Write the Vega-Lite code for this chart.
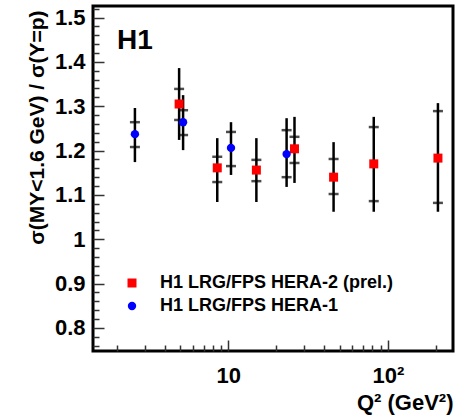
{
  "$schema": "https://vega.github.io/schema/vega-lite/v6.json",
  "width": 360,
  "height": 345,
  "autosize": {"type": "none"},
  "padding": {"left": 93, "top": 6, "right": 11, "bottom": 66},
  "background": "white",
  "title": {"text": "H1", "frame": "group", "anchor": "start", "orient": "top", "offset": -49, "dx": 24, "fontSize": 28, "fontWeight": "bold", "font": "Liberation Sans", "color": "black"},
  "config": {
    "view": {"stroke": "black", "strokeWidth": 3},
    "font": "Liberation Sans",
    "axis": {"domain": false, "grid": false, "labelFont": "Liberation Sans", "labelFontWeight": "bold", "labelFontSize": 22, "labelColor": "black", "titleFont": "Liberation Sans", "titleFontWeight": "bold", "titleColor": "black", "tickColor": "#333333", "tickWidth": 1.5}
  },
  "data": {"values": [
    {"series": "H1 LRG/FPS HERA-2 (prel.)", "q2": 4.92, "y": 1.305, "lo1": 1.269, "hi1": 1.339, "lo2": 1.224, "hi2": 1.386},
    {"series": "H1 LRG/FPS HERA-2 (prel.)", "q2": 8.53, "y": 1.161, "lo1": 1.129, "hi1": 1.186, "lo2": 1.084, "hi2": 1.228},
    {"series": "H1 LRG/FPS HERA-2 (prel.)", "q2": 15.0, "y": 1.156, "lo1": 1.131, "hi1": 1.179, "lo2": 1.084, "hi2": 1.228},
    {"series": "H1 LRG/FPS HERA-2 (prel.)", "q2": 26.0, "y": 1.204, "lo1": 1.172, "hi1": 1.231, "lo2": 1.127, "hi2": 1.276},
    {"series": "H1 LRG/FPS HERA-2 (prel.)", "q2": 45.7, "y": 1.140, "lo1": 1.102, "hi1": 1.181, "lo2": 1.062, "hi2": 1.219},
    {"series": "H1 LRG/FPS HERA-2 (prel.)", "q2": 81.6, "y": 1.170, "lo1": 1.086, "hi1": 1.253, "lo2": 1.062, "hi2": 1.276},
    {"series": "H1 LRG/FPS HERA-2 (prel.)", "q2": 206, "y": 1.183, "lo1": 1.082, "hi1": 1.289, "lo2": 1.062, "hi2": 1.307},
    {"series": "H1 LRG/FPS HERA-1", "q2": 2.6, "y": 1.237, "lo1": 1.208, "hi1": 1.264, "lo2": 1.174, "hi2": 1.296},
    {"series": "H1 LRG/FPS HERA-1", "q2": 5.21, "y": 1.264, "lo1": 1.235, "hi1": 1.291, "lo2": 1.201, "hi2": 1.325},
    {"series": "H1 LRG/FPS HERA-1", "q2": 10.4, "y": 1.206, "lo1": 1.165, "hi1": 1.242, "lo2": 1.145, "hi2": 1.264},
    {"series": "H1 LRG/FPS HERA-1", "q2": 23.2, "y": 1.192, "lo1": 1.140, "hi1": 1.246, "lo2": 1.118, "hi2": 1.273}
  ]},
  "resolve": {"axis": {"x": "independent", "y": "independent"}},
  "layer": [
    {
      "mark": {"type": "rule", "color": "black", "strokeWidth": 2.5},
      "encoding": {
        "x": {"field": "q2", "type": "quantitative",
          "scale": {"type": "log", "domain": [1.42, 256], "nice": false},
          "axis": {"orient": "bottom", "values": [10, 100], "ticks": false, "labelExpr": "datum.value == 100 ? '10²' : '10'", "labelPadding": 14, "title": "Q² (GeV²)", "titleFontSize": 22, "titleAnchor": "end", "titleAlign": "right", "titleY": 41, "titleBaseline": "top"}},
        "y": {"field": "lo2", "type": "quantitative",
          "scale": {"domain": [0.748, 1.526], "nice": false, "zero": false},
          "axis": {"orient": "left", "values": [0.8, 0.9, 1, 1.1, 1.2, 1.3, 1.4, 1.5], "ticks": false, "format": ".2~f", "labelPadding": 8, "title": "σ(MY<1.6 GeV) / σ(Y=p)", "titleFontSize": 21, "titleAnchor": "end", "titleAlign": "right", "titleX": -46, "titleY": 4}},
        "y2": {"field": "hi2"}
      }
    },
    {
      "mark": {"type": "tick", "orient": "horizontal", "color": "black", "size": 10, "thickness": 2.5},
      "encoding": {
        "x": {"field": "q2", "type": "quantitative", "scale": {"type": "log", "domain": [1.42, 256], "nice": false},
          "axis": {"orient": "bottom", "values": [10, 100], "labels": false, "tickSize": -11, "title": null}},
        "y": {"field": "hi1", "type": "quantitative", "scale": {"domain": [0.748, 1.526], "nice": false, "zero": false},
          "axis": {"orient": "left", "values": [0.8, 0.9, 1, 1.1, 1.2, 1.3, 1.4, 1.5], "labels": false, "tickSize": -11, "title": null}}
      }
    },
    {
      "mark": {"type": "tick", "orient": "horizontal", "color": "black", "size": 10, "thickness": 2.5},
      "encoding": {
        "x": {"field": "q2", "type": "quantitative", "axis": null},
        "y": {"field": "lo1", "type": "quantitative", "axis": null}
      }
    },
    {
      "mark": {"type": "point", "filled": true, "opacity": 1},
      "encoding": {
        "x": {"field": "q2", "type": "quantitative", "scale": {"type": "log", "domain": [1.42, 256], "nice": false},
          "axis": {"orient": "bottom", "values": [2, 3, 4, 5, 6, 7, 8, 9, 20, 30, 40, 50, 60, 70, 80, 90, 200], "labels": false, "tickSize": -6, "title": null}},
        "y": {"field": "y", "type": "quantitative", "scale": {"domain": [0.748, 1.526], "nice": false, "zero": false},
          "axis": {"orient": "left", "values": [0.76, 0.78, 0.82, 0.84, 0.86, 0.88, 0.92, 0.94, 0.96, 0.98, 1.02, 1.04, 1.06, 1.08, 1.12, 1.14, 1.16, 1.18, 1.22, 1.24, 1.26, 1.28, 1.32, 1.34, 1.36, 1.38, 1.42, 1.44, 1.46, 1.48, 1.52], "labels": false, "tickSize": -6, "title": null}},
        "color": {"field": "series", "type": "nominal",
          "scale": {"domain": ["H1 LRG/FPS HERA-2 (prel.)", "H1 LRG/FPS HERA-1"], "range": ["#ff0000", "#0000ff"]},
          "legend": {"orient": "none", "legendX": 30, "legendY": 268, "title": null, "symbolSize": 180, "symbolStrokeWidth": 0, "labelFont": "Liberation Sans", "labelFontSize": 18, "labelFontWeight": "bold", "labelColor": "black", "labelOffset": 19, "rowPadding": 5, "padding": 0, "labelLimit": 400}},
        "shape": {"field": "series", "type": "nominal",
          "scale": {"domain": ["H1 LRG/FPS HERA-2 (prel.)", "H1 LRG/FPS HERA-1"], "range": ["square", "circle"]}},
        "size": {"field": "series", "type": "nominal",
          "scale": {"domain": ["H1 LRG/FPS HERA-2 (prel.)", "H1 LRG/FPS HERA-1"], "range": [81, 70]}, "legend": null}
      }
    }
  ]
}
